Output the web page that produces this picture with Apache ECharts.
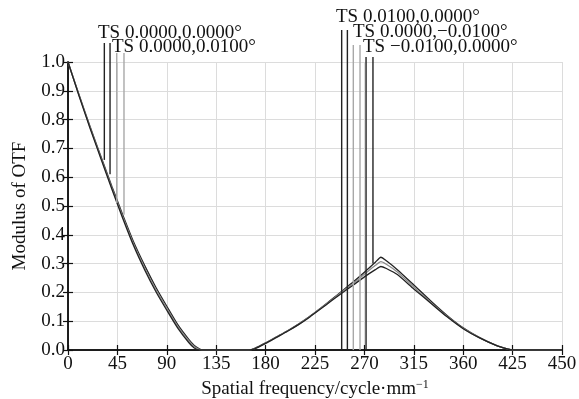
<!DOCTYPE html>
<html>
<head>
<meta charset="utf-8">
<script src="https://cdn.jsdelivr.net/npm/echarts@6/dist/echarts.min.js"></script>
<style>
html,body{margin:0;padding:0;background:#fff;}
#chart{width:579px;height:399px;}
</style>
</head>
<body>
<div id="chart"></div>
<script>
// ---- data ----
var freqs = [0,10,20,30,40,50,60,70,80,90,100,110,115,120,122,140,165,170,180,190,200,210,220,230,240,250,260,270,280,285,290,300,315,330,345,360,375,390,400,405,450];
var curveA = [1.0,0.887,0.777,0.672,0.568,0.468,0.373,0.292,0.218,0.152,0.088,0.037,0.016,0.003,0,0,0,0.006,0.025,0.046,0.067,0.090,0.116,0.145,0.175,0.206,0.237,0.270,0.305,0.322,0.310,0.279,0.226,0.172,0.121,0.077,0.043,0.016,0.004,0,0];
var curveB = [1.0,0.885,0.774,0.668,0.563,0.462,0.366,0.284,0.210,0.145,0.082,0.032,0.012,0.001,0,0,0,0.005,0.024,0.045,0.066,0.089,0.115,0.144,0.173,0.203,0.232,0.263,0.294,0.307,0.298,0.271,0.219,0.167,0.118,0.075,0.042,0.016,0.004,0,0];
var curveC = [1.0,0.883,0.771,0.664,0.558,0.456,0.360,0.277,0.203,0.138,0.076,0.026,0.007,0,0,0,0,0.004,0.023,0.044,0.065,0.088,0.114,0.142,0.171,0.199,0.226,0.254,0.279,0.290,0.283,0.262,0.212,0.164,0.116,0.074,0.042,0.016,0.004,0,0];
var xTickLabels = ['0','45','90','135','180','225','270','315','360','425','450'];
var fieldLabels = ['TS 0.0000,0.0000\u00B0','TS 0.0000,0.0100\u00B0','TS 0.0100,0.0000\u00B0','TS 0.0000,\u22120.0100\u00B0','TS \u22120.0100,0.0000\u00B0'];
var markerFreqs  = [33.1, 38.3, 44.4, 51.0, 249.3, 254.5, 259.9, 266.0, 271.5, 277.8];
var markerTop    = [1.066,1.066,1.031,1.031,1.111,1.111,1.059,1.059,1.017,1.017];
var markerBottom = [0.66, 0.61, 0.51, 0.47, 0, 0, 0, 0, 0, 0.30];
var markerField  = [0,0,1,1,2,2,3,3,4,4];

// ---- styles ----
var FONT = 'Liberation Serif';
var DARK = '#222';
var GRAY = '#a8a8a8';
var fieldColor = [DARK, GRAY, DARK, GRAY, DARK];

function pairs(ys){ return freqs.map(function(x,i){ return [x, ys[i]]; }); }

var series = [];
[[curveA, DARK],[curveB, '#8a8a8a'],[curveC, DARK]].forEach(function(c){
  series.push({type:'line', data:pairs(c[0]), showSymbol:false, smooth:0.2,
    lineStyle:{color:c[1], width:1.3}, z:3, animation:false});
});
markerFreqs.forEach(function(x,i){
  series.push({type:'line', data:[[x, markerTop[i]],[x, markerBottom[i]]], showSymbol:false,
    clip:false, lineStyle:{color:fieldColor[markerField[i]], width:1.4}, z:4, animation:false});
});

var labelPos = [[98,34],[112,48],[336,18],[353,33],[363,48]];
var graphics = fieldLabels.map(function(t,i){
  return {type:'text', left:labelPos[i][0], top:labelPos[i][1]-10,
    style:{text:t, font:'19px "'+FONT+'"', fill:'#111'}, z:10};
});

var axisCommon = {
  min:0, axisLine:{show:true, lineStyle:{color:'#111', width:1.5}},
  axisTick:{show:true, inside:true, length:5, lineStyle:{color:'#111', width:1.2}}
};

var chart = echarts.init(document.getElementById('chart'), null, {renderer:'canvas'});
chart.setOption({
  animation:false,
  backgroundColor:'#fff',
  grid:{left:68, top:62, width:494, height:288, containLabel:false, outerBoundsMode:'none'},
  xAxis:[
    Object.assign({}, axisCommon, {type:'value', position:'bottom', max:450, interval:45,
      axisLabel:{formatter:function(v){ return xTickLabels[Math.round(v/45)]; }, fontFamily:FONT, fontSize:19, color:'#111', margin:5},
      splitLine:{show:true, lineStyle:{color:'#dcdcdc', width:1}},
      name:'Spatial frequency/cycle\u00B7mm{sup|\u22121}', nameLocation:'middle', nameGap:26,
      nameTextStyle:{fontFamily:FONT, fontSize:19, color:'#111', verticalAlign:'top',
        rich:{sup:{fontFamily:FONT, fontSize:12, color:'#111', verticalAlign:'top', padding:[0,0,8,0]}}}
    }),
    Object.assign({}, axisCommon, {type:'value', position:'top', max:450, interval:45,
      axisLabel:{show:false}, splitLine:{show:false}})
  ],
  yAxis:[
    Object.assign({}, axisCommon, {type:'value', position:'left', max:1, interval:0.1,
      axisLabel:{formatter:function(v){ return v.toFixed(1); }, fontFamily:FONT, fontSize:19, color:'#111', margin:3},
      splitLine:{show:true, lineStyle:{color:'#dcdcdc', width:1}},
      name:'Modulus of OTF', nameLocation:'middle', nameGap:38,
      nameTextStyle:{fontFamily:FONT, fontSize:19, color:'#111'}
    }),
    Object.assign({}, axisCommon, {type:'value', position:'right', max:1, interval:0.1,
      axisLabel:{show:false}, splitLine:{show:false}})
  ],
  series:series,
  graphic:graphics
});
</script>
</body>
</html>
